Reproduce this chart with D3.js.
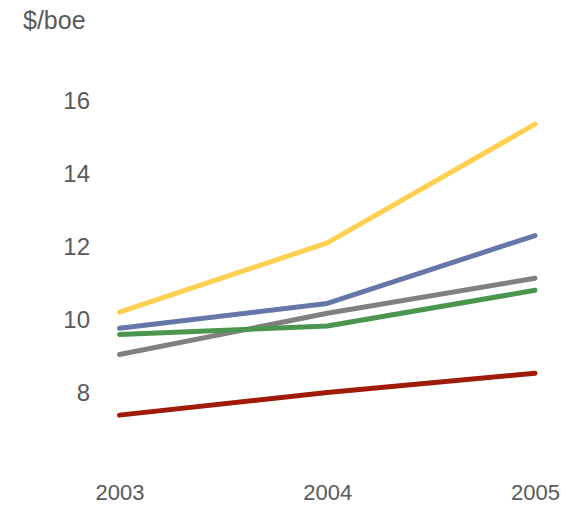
<!DOCTYPE html>
<html><head><meta charset="utf-8">
<script src="https://cdn.jsdelivr.net/npm/d3@7"></script>
<style>body{margin:0;background:#fff}svg{display:block}</style>
</head><body>
<script>
const years = ["2003", "2004", "2005"];
const seriesNames = ["yellow", "blue", "gray", "green", "red"];
const seriesColors = ["#FFD050", "#6676A8", "#808080", "#4A964F", "#A01A08"];
const yellowValues = [10.20, 12.10, 15.35];
const blueValues = [9.76, 10.44, 12.30];
const grayValues = [9.04, 10.17, 11.13];
const greenValues = [9.59, 9.82, 10.80];
const redValues = [7.38, 8.00, 8.53];
const yTicks = [8, 10, 12, 14, 16];
const yUnit = "$/boe";

const allValues = [yellowValues, blueValues, grayValues, greenValues, redValues];
const W = 577, H = 507;
const svg = d3.select("body").append("svg").attr("width", W).attr("height", H);

const x = d3.scalePoint().domain(years).range([119.5, 535]);
const y = d3.scaleLinear().domain([6, 18]).range([465.5, 27.5]);

const font = "Liberation Sans, Arial, sans-serif";
const textColor = "#595959";

const yAxis = svg.append("g").attr("transform", "translate(90,0)")
  .call(d3.axisLeft(y).tickValues(yTicks).tickSize(0).tickPadding(0));
yAxis.select(".domain").remove();
yAxis.selectAll("text").attr("font-family", font).attr("font-size", 24).attr("fill", textColor).attr("dy", "0.35em");

const xAxis = svg.append("g").attr("transform", "translate(0,484.5)")
  .call(d3.axisBottom(x).tickSize(0).tickPadding(0));
xAxis.select(".domain").remove();
xAxis.selectAll("text").attr("font-family", font).attr("font-size", 22).attr("fill", textColor).attr("dy", "0.71em");

svg.append("text").attr("x", 23).attr("y", 28.5).text(yUnit)
  .attr("font-family", font).attr("font-size", 25).attr("fill", textColor);

const line = d3.line().x((d, i) => x(years[i])).y(d => y(d));
svg.selectAll("path.series").data(allValues).join("path")
  .attr("class", "series")
  .attr("d", line)
  .attr("fill", "none")
  .attr("stroke", (d, i) => seriesColors[i])
  .attr("stroke-width", 5)
  .attr("stroke-linecap", "round")
  .attr("stroke-linejoin", "round");
</script>
</body></html>
